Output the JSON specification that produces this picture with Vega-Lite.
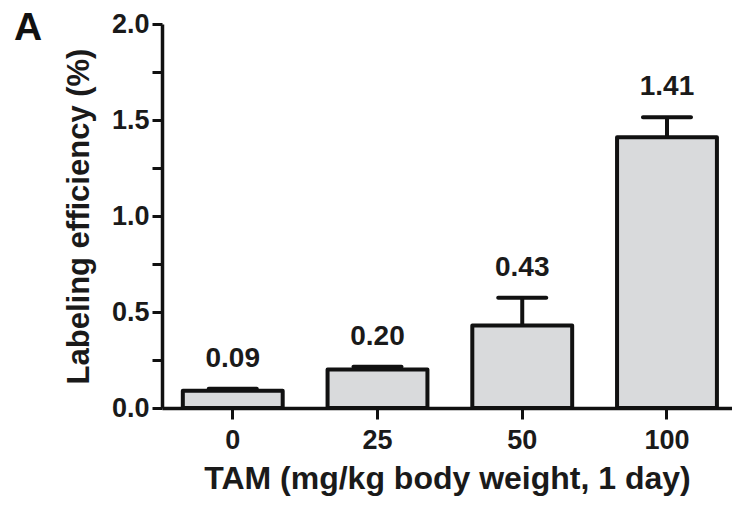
{
  "$schema": "https://vega.github.io/schema/vega-lite/v6.json",
  "width": 570,
  "height": 384,
  "autosize": {"type": "none"},
  "padding": {"left": 162, "top": 24, "right": 0, "bottom": 98},
  "background": "white",
  "title": {
    "text": "A",
    "anchor": "start",
    "frame": "group",
    "orient": "top",
    "offset": 0,
    "baseline": "alphabetic",
    "dx": -148,
    "dy": 69,
    "font": "Liberation Sans",
    "fontWeight": "bold",
    "fontSize": 39,
    "color": "#111111"
  },
  "config": {
    "view": {"stroke": null},
    "font": "Liberation Sans",
    "axis": {
      "domainColor": "#111111",
      "domainWidth": 3.5,
      "tickColor": "#111111",
      "tickWidth": 3,
      "grid": false,
      "labelFont": "Liberation Sans",
      "labelFontWeight": "bold",
      "labelFontSize": 27,
      "labelColor": "#1a1a1a",
      "titleFont": "Liberation Sans",
      "titleFontWeight": "bold",
      "titleFontSize": 31,
      "titleColor": "#1a1a1a"
    }
  },
  "data": {
    "values": [
      {"dose": "0", "value": 0.09, "upper": 0.10, "label": "0.09"},
      {"dose": "25", "value": 0.20, "upper": 0.215, "label": "0.20"},
      {"dose": "50", "value": 0.43, "upper": 0.574, "label": "0.43"},
      {"dose": "100", "value": 1.41, "upper": 1.514, "label": "1.41"}
    ]
  },
  "encoding": {
    "x": {
      "field": "dose",
      "type": "nominal",
      "sort": null,
      "scale": {"paddingInner": 0.31, "paddingOuter": 0.124, "align": 0.58},
      "axis": {
        "title": "TAM (mg/kg body weight, 1 day)",
        "titleFontSize": 32,
        "labelAngle": 0,
        "tickSize": 11,
        "labelPadding": 8,
        "titlePadding": 10
      }
    }
  },
  "layer": [
    {
      "mark": {"type": "rule", "stroke": "#111111", "strokeWidth": 4},
      "encoding": {
        "y": {"field": "value", "type": "quantitative"},
        "y2": {"field": "upper"}
      }
    },
    {
      "mark": {"type": "tick", "color": "#111111", "size": 52, "thickness": 4, "cornerRadius": 2, "opacity": 1},
      "encoding": {
        "y": {"field": "upper", "type": "quantitative"}
      }
    },
    {
      "mark": {"type": "bar", "fill": "#d9dadc", "stroke": "#111111", "strokeWidth": 4, "strokeJoin": "round"},
      "encoding": {
        "y": {
          "field": "value",
          "type": "quantitative",
          "scale": {"domain": [0, 2], "nice": false},
          "axis": {
            "title": "Labeling efficiency (%)",
            "values": [0, 0.25, 0.5, 0.75, 1, 1.25, 1.5, 1.75, 2],
            "labelExpr": "datum.value % 0.5 == 0 ? format(datum.value, '.1f') : ''",
            "tickSize": 10,
            "labelPadding": 3,
            "titlePadding": 16
          }
        }
      }
    },
    {
      "mark": {"type": "text", "baseline": "alphabetic", "dy": -22, "font": "Liberation Sans", "fontWeight": "bold", "fontSize": 28, "color": "#1a1a1a"},
      "encoding": {
        "y": {"field": "upper", "type": "quantitative"},
        "text": {"field": "label"}
      }
    }
  ]
}
